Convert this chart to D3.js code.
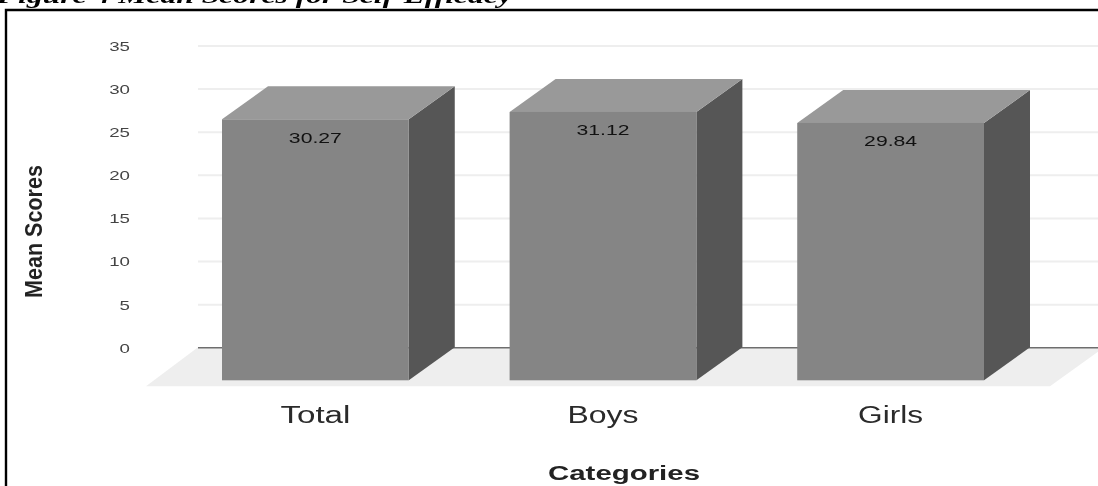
<!DOCTYPE html>
<html><head><meta charset="utf-8">
<style>html,body{margin:0;padding:0;background:#fff;overflow:hidden}svg{display:block;filter:blur(0.55px)}</style>
<script src="https://cdn.jsdelivr.net/npm/d3@7"></script></head>
<body><svg id="c" width="1098" height="486"></svg>
<script>
const categories = ["Total", "Boys", "Girls"];
const meanScores = [30.27, 31.12, 29.84];
const yTicks = [0, 5, 10, 15, 20, 25, 30, 35];
const titleText = "Figure 4 Mean Scores for Self-Efficacy";
const xAxisTitle = "Categories";
const yAxisTitle = "Mean Scores";

const svg = d3.select("#c");
const sans = "'Liberation Sans', Arial, sans-serif";
const depthX = 46, depthY = 33;
const y = d3.scaleLinear().domain([0, 35]).range([347.3, 45.5]);
const x = d3.scaleBand().domain(categories).range([222, 984]).paddingInner(0.3506).paddingOuter(0);
const gridLeft = 198, gridRight = 1098;

// frame
svg.append("path").attr("d", "M6,486V10H1098").attr("fill", "none").attr("stroke", "#000").attr("stroke-width", 2.4);

// cropped caption
svg.append("text").attr("x", -3).attr("y", 3).text(titleText)
  .attr("font-family", "'Liberation Serif', serif").attr("font-weight", "bold").attr("font-style", "italic")
  .attr("font-size", 22).attr("textLength", 515).attr("lengthAdjust", "spacingAndGlyphs").attr("fill", "#000");

// floor
const floorFront = y(0) + 39;
svg.append("polygon")
  .attr("points", [[146, floorFront], [gridLeft, y(0)], [gridRight + 6, y(0)], [1050, floorFront]].join(" "))
  .attr("fill", "#eeeeee");

// y axis with grid
const axisY = svg.append("g").attr("transform", `translate(${gridLeft},0)`)
  .call(d3.axisLeft(y).tickValues(yTicks).tickSize(0).tickPadding(0));
axisY.select(".domain").remove();
axisY.selectAll(".tick line")
  .attr("x1", 0).attr("x2", gridRight - gridLeft)
  .attr("stroke", d => d === 0 ? "#6e6e6e" : "#eeeeee")
  .attr("stroke-width", d => d === 0 ? 1.4 : 2);
axisY.selectAll(".tick text").attr("x", 130 - gridLeft).attr("text-anchor", "end").attr("dy", "0.36em")
  .attr("font-family", sans).attr("font-size", 13.5).attr("fill", "#444")
  .attr("textLength", d => String(d).length * 10.4).attr("lengthAdjust", "spacingAndGlyphs");

// bars
const bars = svg.append("g").selectAll("g")
  .data(categories.map((c, i) => ({ c, v: meanScores[i] }))).join("g");
const barLeft = d => x(d.c), barRight = d => x(d.c) + x.bandwidth();
const barBase = y(0) + depthY, barTop = d => y(d.v) + depthY;
bars.append("polygon") // side
  .attr("points", d => [[barRight(d), barTop(d)], [barRight(d) + depthX, y(d.v)], [barRight(d) + depthX, y(0)], [barRight(d), barBase]].join(" "))
  .attr("fill", "#565656");
bars.append("polygon") // top
  .attr("points", d => [[barLeft(d), barTop(d)], [barLeft(d) + depthX, y(d.v)], [barRight(d) + depthX, y(d.v)], [barRight(d), barTop(d)]].join(" "))
  .attr("fill", "#999999");
bars.append("rect") // front
  .attr("x", barLeft).attr("y", barTop).attr("width", x.bandwidth()).attr("height", d => barBase - barTop(d))
  .attr("fill", "#858585");
bars.append("text") // value
  .attr("x", d => barLeft(d) + x.bandwidth() / 2).attr("y", d => barTop(d) + 18).attr("dy", "0.36em")
  .attr("text-anchor", "middle").text(d => d.v.toFixed(2))
  .attr("font-family", sans).attr("font-size", 14.5).attr("fill", "#111")
  .attr("textLength", 53).attr("lengthAdjust", "spacingAndGlyphs");

// x axis labels
const axisX = svg.append("g").attr("transform", `translate(0,${barBase})`)
  .call(d3.axisBottom(x).tickSize(0).tickPadding(0));
axisX.select(".domain").remove();
axisX.selectAll(".tick text").attr("y", 34).attr("dy", "0.36em")
  .attr("font-family", sans).attr("font-size", 23).attr("fill", "#2a2a2a")
  .attr("textLength", d => ({ Total: 70, Boys: 71, Girls: 65 })[d]).attr("lengthAdjust", "spacingAndGlyphs");

// axis titles
svg.append("text").attr("x", 624).attr("y", 480).attr("text-anchor", "middle").text(xAxisTitle)
  .attr("font-family", sans).attr("font-weight", "bold").attr("font-size", 20).attr("fill", "#222")
  .attr("textLength", 152).attr("lengthAdjust", "spacingAndGlyphs");
svg.append("text").attr("transform", "translate(42,231.5) rotate(-90)").attr("text-anchor", "middle").text(yAxisTitle)
  .attr("font-family", sans).attr("font-weight", "bold").attr("font-size", 24).attr("fill", "#222")
  .attr("textLength", 133).attr("lengthAdjust", "spacingAndGlyphs");
</script></body></html>
